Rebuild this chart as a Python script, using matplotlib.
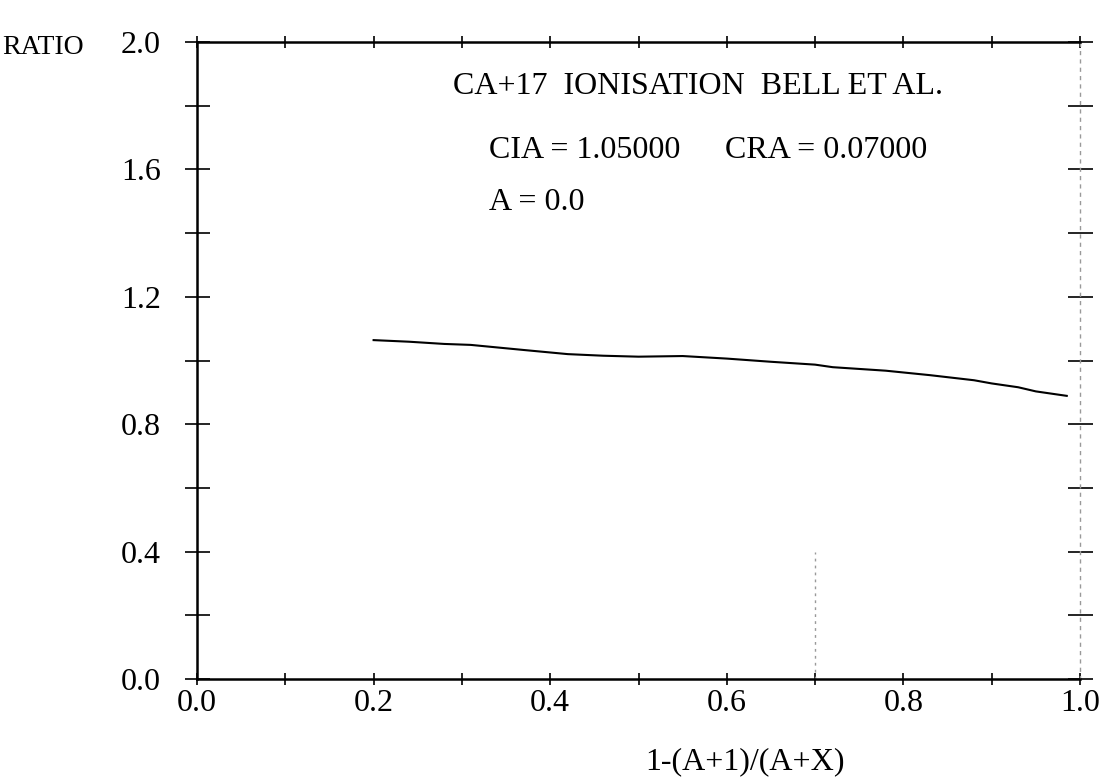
import matplotlib
matplotlib.use("Agg")
import matplotlib.pyplot as plt
import numpy as np

# Data
x_vals = [0.20, 0.24, 0.28, 0.31, 0.37, 0.42, 0.46, 0.50, 0.55, 0.60,
          0.65, 0.70, 0.72, 0.78, 0.83, 0.88, 0.90, 0.93, 0.95, 0.985]
ratio_vals = [1.064, 1.059, 1.052, 1.049, 1.033, 1.020, 1.015, 1.012, 1.014, 1.006,
              0.996, 0.987, 0.979, 0.968, 0.954, 0.938, 0.928, 0.916, 0.903, 0.889]
x_major = [0.0, 0.2, 0.4, 0.6, 0.8, 1.0]
x_minor = [0.1, 0.3, 0.5, 0.7, 0.9]
y_major = [0.0, 0.4, 0.8, 1.2, 1.6, 2.0]
y_minor = [0.2, 0.6, 1.0, 1.4, 1.8]
marker_x = 0.7
marker_top = 0.4

plt.rcParams['font.family'] = ['Liberation Serif', 'DejaVu Serif']
FS = 23

fig = plt.figure(figsize=(11.04, 7.8), dpi=100)
ax = fig.add_axes([197/1104, 1 - 679/780, (1080-197)/1104, (679-42)/780])

ax.plot(x_vals, ratio_vals, color='black', lw=1.5)
ax.plot([marker_x, marker_x], [0.0, marker_top], color='#999999', lw=1.0, ls=(0, (2, 3)))

ax.set_xlim(0, 1)
ax.set_ylim(0, 2)

ax.set_xticks(x_major)
ax.set_xticks(x_minor, minor=True)
ax.set_yticks(y_major)
ax.set_yticks(y_minor, minor=True)
ax.set_xticklabels([f"{v:.1f}" for v in x_major])
ax.set_yticklabels([f"{v:.1f}" for v in y_major])

ax.tick_params(axis='x', which='both', direction='inout', length=8, width=1.2,
               top=True, bottom=True, labelsize=FS, pad=3)
ax.tick_params(axis='y', which='both', direction='inout', length=18, width=1.2,
               left=True, right=True, labelsize=FS, pad=17)

for s in ['left', 'bottom', 'top']:
    ax.spines[s].set_linewidth(1.8)
    ax.spines[s].set_color('black')
ax.spines['right'].set_linestyle((0, (2, 4)))
ax.spines['right'].set_color('#999999')
ax.spines['right'].set_linewidth(1.0)

fig.text(2/1104, 1 - 48/780, "RATIO", fontsize=20, ha='left', va='center')
fig.text(745/1104, 1 - 762/780, "1-(A+1)/(A+X)", fontsize=FS, ha='center', va='center')

fig.text(453/1104, 1 - 87/780, "CA+17  IONISATION  BELL ET AL.", fontsize=FS, ha='left', va='center')
fig.text(489/1104, 1 - 150/780, "CIA = 1.05000", fontsize=FS, ha='left', va='center')
fig.text(725/1104, 1 - 150/780, "CRA = 0.07000", fontsize=FS, ha='left', va='center')
fig.text(489/1104, 1 - 203/780, "A = 0.0", fontsize=FS, ha='left', va='center')

fig.savefig("out.png", dpi=100)
